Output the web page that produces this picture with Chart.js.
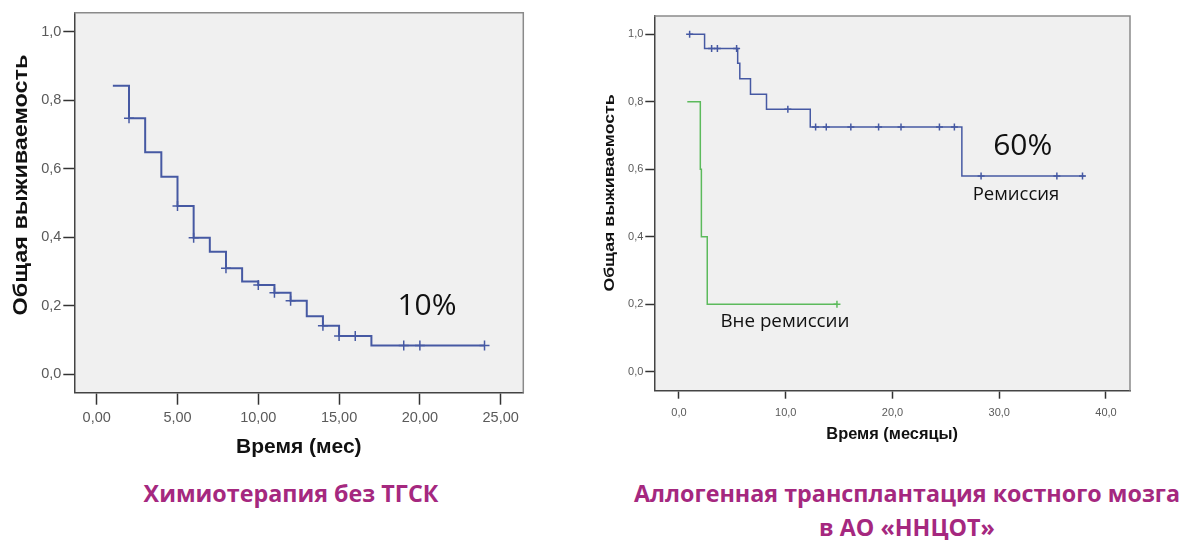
<!DOCTYPE html>
<html><head><meta charset="utf-8">
<script src="https://cdn.jsdelivr.net/npm/chart.js@4.4.1/dist/chart.umd.min.js"></script>
<style>
html,body{margin:0;padding:0;background:#fff;width:1185px;height:540px;overflow:hidden}
body{position:relative}
#c1{position:absolute;left:0;top:0}
#c2{position:absolute;left:590px;top:0}
.cap{position:absolute;font-family:"Open Sans",sans-serif;font-weight:700;font-size:23.3px;line-height:34px;color:#A5287F;text-align:center;white-space:nowrap}
</style></head><body>
<canvas id="c1" width="545" height="470"></canvas>
<canvas id="c2" width="595" height="460"></canvas>
<div class="cap" style="left:0;width:582px;top:476px">Химиотерапия без ТГСК</div>
<div class="cap" style="left:607px;width:600px;top:476px">Аллогенная трансплантация костного мозга<br>в АО «ННЦОТ»</div>
<script>
// ---- Left chart: chemotherapy without HSCT ----
const chemoTimes = [1, 2, 3, 4, 5, 6, 7, 8, 9, 10, 11, 12, 13, 14, 15, 17, 24];
const chemoSurv  = [0.842, 0.747, 0.648, 0.576, 0.491, 0.398, 0.357, 0.309, 0.27, 0.26, 0.2375, 0.214, 0.169, 0.141, 0.111, 0.083, 0.083];
const chemoCensorTimes = [2, 5, 6, 8, 10, 11, 12, 14, 15, 16, 19, 20, 24];
const chemoCensorSurv  = [0.747, 0.491, 0.398, 0.309, 0.26, 0.2375, 0.214, 0.141, 0.111, 0.111, 0.083, 0.083, 0.083];
const leftXTicks = [0, 5, 10, 15, 20, 25];
const leftYTicks = [0, 0.2, 0.4, 0.6, 0.8, 1.0];

// ---- Right chart: allogeneic BMT ----
const remTimes = [1, 2.4, 5.5, 5.7, 6.7, 8.2, 12.3, 26.5, 38];
const remSurv  = [1.0, 0.958, 0.914, 0.868, 0.822, 0.778, 0.725, 0.58, 0.58];
const remCensorTimes = [1, 3.06, 3.6, 5.4, 10.2, 12.8, 13.8, 16.1, 18.7, 20.8, 24.4, 25.8, 28.3, 35.4, 37.8];
const remCensorSurv  = [1.0, 0.958, 0.958, 0.958, 0.778, 0.725, 0.725, 0.725, 0.725, 0.725, 0.725, 0.725, 0.58, 0.58, 0.58];
const nonRemTimes = [0.78, 2.0, 2.1, 2.65, 14.8];
const nonRemSurv  = [0.8, 0.6, 0.4, 0.2, 0.2];
const nonRemCensorTimes = [14.8];
const nonRemCensorSurv  = [0.2];
const rightXTicks = [0, 10, 20, 30, 40];
const rightYTicks = [0, 0.2, 0.4, 0.6, 0.8, 1.0];

const BLUE = '#4659a3';
const GREEN = '#5cba5c';
const pts = (xs, ys) => xs.map((x, i) => ({x: x, y: ys[i]}));

const frame = {
  id: 'frame',
  beforeDraw(chart, args, o) {
    const {ctx, chartArea: a} = chart;
    ctx.save();
    ctx.fillStyle = o.bg;
    ctx.fillRect(a.left, a.top, a.right - a.left, a.bottom - a.top);
    ctx.restore();
  },
  afterDraw(chart, args, o) {
    const {ctx, chartArea: a} = chart;
    ctx.save();
    ctx.strokeStyle = o.border; ctx.lineWidth = o.width;
    ctx.beginPath();
    ctx.moveTo(a.left, a.top); ctx.lineTo(a.right, a.top); ctx.lineTo(a.right, a.bottom);
    ctx.stroke();
    ctx.textAlign = 'center'; ctx.textBaseline = 'middle';
    (o.labels || []).forEach(l => {
      const x = chart.scales.x.getPixelForValue(l.x);
      const y = chart.scales.y.getPixelForValue(l.y);
      ctx.font = l.font; ctx.fillStyle = l.color;
      ctx.fillText(l.text, x, y);
    });
    if (o.yTitle) {
      ctx.save();
      ctx.translate(o.yTitle.cx, o.yTitle.cy);
      ctx.rotate(-Math.PI / 2);
      ctx.scale(o.yTitle.stretch, 1);
      ctx.font = o.yTitle.font; ctx.fillStyle = '#111';
      ctx.fillText(o.yTitle.text, 0, 0);
      ctx.restore();
    }
    ctx.restore();
  }
};

function makeChart(id, cfg) {
  const tickFontX = {family: 'Liberation Sans', size: cfg.xTickSize};
  const tickFontY = {family: 'Liberation Sans', size: cfg.yTickSize};
  const titleFont = {family: 'Liberation Sans', size: cfg.titleSize, weight: 'bold'};
  return new Chart(document.getElementById(id), {
    type: 'line',
    data: {datasets: cfg.datasets},
    plugins: [frame],
    options: {
      responsive: false, animation: false,
      layout: {padding: {top: cfg.padTop, right: cfg.padRight, left: 0, bottom: 0}},
      plugins: {
        legend: {display: false}, tooltip: {enabled: false},
        frame: {bg: '#f0f0f0', border: '#8a8a8a', width: 1.5, labels: cfg.labels,
                yTitle: {text: 'Общая выживаемость', cx: cfg.yTitleX, cy: cfg.yTitleY, stretch: cfg.yTitleStretch,
                         font: 'bold ' + cfg.yTitleSize + 'px "Liberation Sans"'}}
      },
      scales: {
        x: {
          type: 'linear', min: cfg.xMin, max: cfg.xMax,
          afterBuildTicks: s => { s.ticks = cfg.xTicks.map(v => ({value: v})); },
          afterFit: s => { s.height = cfg.xAxisH; },
          ticks: {callback: v => v.toFixed(cfg.xDec).replace('.', ','), font: tickFontX, color: '#5a5a5a', padding: cfg.xTickPad, maxRotation: 0, autoSkip: false},
          grid: {drawOnChartArea: false, drawTicks: true, tickLength: cfg.xTickLen, tickColor: '#333', tickWidth: 1.5},
          border: {color: '#444', width: 1.5},
          title: {display: true, text: cfg.xTitle, font: titleFont, color: '#111', padding: {top: 0, bottom: cfg.xTitlePad}}
        },
        y: {
          type: 'linear', min: cfg.yMin, max: cfg.yMax,
          afterBuildTicks: s => { s.ticks = cfg.yTicks.map(v => ({value: v})); },
          afterFit: s => { s.width = cfg.yAxisW; },
          ticks: {callback: v => v.toFixed(1).replace('.', ','), font: tickFontY, color: '#5a5a5a', padding: 2},
          grid: {drawOnChartArea: false, drawTicks: true, tickLength: cfg.yTickLen, tickColor: '#333', tickWidth: 1.5},
          border: {color: '#444', width: 1.5}
        }
      }
    }
  });
}

makeChart('c1', {
  datasets: [
    {data: pts(chemoTimes, chemoSurv), stepped: true, borderColor: BLUE, borderWidth: 2, pointRadius: 0, fill: false},
    {data: pts(chemoCensorTimes, chemoCensorSurv), showLine: false, pointStyle: 'cross', pointRadius: 5, borderColor: BLUE, borderWidth: 1.5}
  ],
  labels: [{text: '10%', x: 20.44, y: 0.197, font: '30px "Open Sans"', color: '#111'}],
  xMin: -1.386, xMax: 26.4, yMin: -0.0546, yMax: 1.0555,
  xTicks: leftXTicks, yTicks: leftYTicks, xDec: 2,
  padTop: 12.7, padRight: 21.7, yAxisW: 74.3, xAxisH: 77.3,
  xTickSize: 14.5, yTickSize: 14.5, titleSize: 21, xTickLen: 12, yTickLen: 11, xTickPad: 5,
  xTitle: 'Время (мес)', xTitlePad: 10,
  yTitleX: 22, yTitleY: 185, yTitleSize: 19.5, yTitleStretch: 1.2
});

makeChart('c2', {
  datasets: [
    {data: pts(remTimes, remSurv), stepped: true, borderColor: BLUE, borderWidth: 1.5, pointRadius: 0, fill: false},
    {data: pts(remCensorTimes, remCensorSurv), showLine: false, pointStyle: 'cross', pointRadius: 3.5, borderColor: BLUE, borderWidth: 1.5},
    {data: pts(nonRemTimes, nonRemSurv), stepped: true, borderColor: GREEN, borderWidth: 1.5, pointRadius: 0, fill: false},
    {data: pts(nonRemCensorTimes, nonRemCensorSurv), showLine: false, pointStyle: 'cross', pointRadius: 3.5, borderColor: GREEN, borderWidth: 1.5}
  ],
  labels: [
    {text: '60%', x: 32.2, y: 0.669, font: '30px "Open Sans"', color: '#111'},
    {text: 'Ремиссия', x: 31.57, y: 0.524, font: '18.5px "Open Sans"', color: '#111'},
    {text: 'Вне ремиссии', x: 9.93, y: 0.149, font: '18.8px "Open Sans"', color: '#111'}
  ],
  xMin: -2.31, xMax: 42.25, yMin: -0.056, yMax: 1.054,
  xTicks: rightXTicks, yTicks: rightYTicks, xDec: 1,
  padTop: 16, padRight: 55, yAxisW: 64.3, xAxisH: 69.3,
  xTickSize: 11, yTickSize: 11, titleSize: 16.4, xTickLen: 8, yTickLen: 9, xTickPad: 8,
  xTitle: 'Время (месяцы)', xTitlePad: 16,
  yTitleX: 20, yTitleY: 193, yTitleSize: 14.5, yTitleStretch: 1.22
});
</script>
</body></html>
